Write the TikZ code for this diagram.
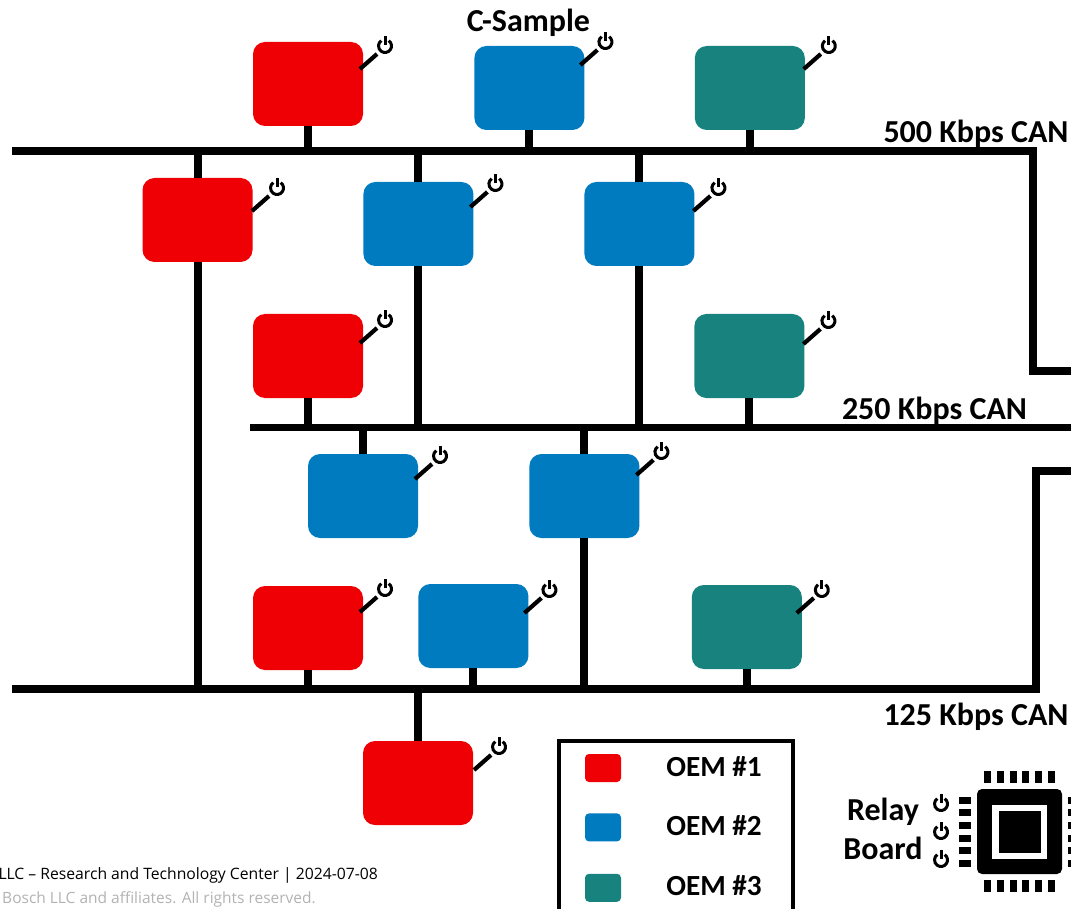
\documentclass[tikz,border=0pt]{standalone}
\usepackage{fontspec}
\setmainfont{Carlito}
\newfontfamily\footfont{Open Sans}
\usetikzlibrary{positioning}

\definecolor{oemred}{HTML}{EE0005}
\definecolor{oemblue}{HTML}{007BC0}
\definecolor{oemgreen}{HTML}{18837E}

\tikzset{
    powerkey/.pic={
        \draw[line width=3pt] (55:6.5pt) arc[start angle=55,end angle=-235,radius=6.5pt];
        \draw[line width=3pt] (0pt,1pt) -- (0pt,10pt);
    }
}

\newcommand{\ecukey}[3]{
    \draw[line width=4.2pt] ([shift={(#2-25,#3+23)}]#1.center) -- ([shift={(#2-8,#3+8)}]#1.center);
    \pic at ([shift={(#2,#3)}]#1.center) {powerkey};
}

\begin{document}
\begin{tikzpicture}[
    x=1pt,y=-1pt,
    ecu/.style={
        minimum width=110pt,
        minimum height=84pt,
        rounded corners=12pt,
        inner sep=0pt
    },
    swatch/.style={
        minimum width=36pt,
        minimum height=28pt,
        rounded corners=4pt,
        inner sep=0pt
    },
    bus/.style={line width=8pt},
    stub/.style={line width=8pt},
    lbl/.style={anchor=base,font=\fontsize{32}{34}\selectfont\bfseries,inner sep=0pt},
    oem/.style={anchor=base,font=\fontsize{29.2}{31}\selectfont\bfseries,inner sep=0pt},
    pin/.style={fill=black,inner sep=0pt}
]

\useasboundingbox (0,0) rectangle (1071,909);

\coordinate (busa) at (12,151);
\coordinate (busacorner) at (1033,151);
\coordinate (busaout) at (1033,371);
\coordinate (busaend) at (1071,371);
\coordinate (busb) at (250,427);
\coordinate (busbend) at (1071,427);
\coordinate (busc) at (12,689);
\coordinate (buscin) at (1036,689);
\coordinate (buscout) at (1036,471);
\coordinate (buscend) at (1071,471);

\node[ecu, fill=oemred] (reda) at (308,84) {};
\node[ecu, fill=oemblue, right=111pt of reda, yshift=-4pt] (bluea) {};
\node[ecu, fill=oemgreen, right=110pt of bluea] (greena) {};

\node[ecu, fill=oemred] (redb) at (197.5,220) {};
\node[ecu, fill=oemblue, right=110.5pt of redb, yshift=-4pt] (blueb) {};
\node[ecu, fill=oemblue, right=110.6pt of blueb] (bluec) {};

\node[ecu, fill=oemred] (redc) at (308,356) {};
\node[ecu, fill=oemgreen, right=331pt of redc] (greenb) {};

\node[ecu, fill=oemblue] (blued) at (363,496) {};
\node[ecu, fill=oemblue, right=111pt of blued] (bluee) {};

\node[ecu, fill=oemred] (redd) at (308,628) {};
\node[ecu, fill=oemblue, right=55pt of redd, yshift=2pt] (bluef) {};
\node[ecu, fill=oemgreen, right=164pt of bluef, xshift=-1pt, yshift=-1pt] (greenc) {};

\node[ecu, fill=oemred] (rede) at (418,783) {};

\draw[bus] (busa) -- (busacorner) -- (busaout) -- (busaend);
\draw[bus, line width=7pt] (busb) -- (busbend);
\draw[bus] (busc) -- (buscin) -- (buscout) -- (buscend);

\draw[stub] (reda.south) -- (reda.south |- busa);
\draw[stub] (bluea.south) -- (bluea.south |- busa);
\draw[stub] (greena.south) -- (greena.south |- busa);
\draw[stub] (redb.north |- busa) -- (redb.north);
\draw[stub] (redb.south) -- (redb.south |- busc);
\draw[stub] (blueb.north |- busa) -- (blueb.north);
\draw[stub] (blueb.south) -- (blueb.south |- busb);
\draw[stub] (bluec.north |- busa) -- (bluec.north);
\draw[stub] (bluec.south) -- (bluec.south |- busb);
\draw[stub] (redc.south) -- (redc.south |- busb);
\draw[stub] (greenb.south) -- (greenb.south |- busb);
\draw[stub] (blued.north |- busb) -- (blued.north);
\draw[stub] (bluee.north |- busb) -- (bluee.north);
\draw[stub] (bluee.south) -- (bluee.south |- busc);
\draw[stub] (redd.south) -- (redd.south |- busc);
\draw[stub] (bluef.south) -- (bluef.south |- busc);
\draw[stub] (greenc.south) -- (greenc.south |- busc);
\draw[stub] (rede.north |- busc) -- (rede.north);

\ecukey{reda}{77}{-38}
\ecukey{bluea}{76}{-46}
\ecukey{greena}{79}{-42}
\ecukey{redb}{79.5}{-32}
\ecukey{blueb}{77}{-40}
\ecukey{bluec}{79}{-36}
\ecukey{redc}{77}{-36}
\ecukey{greenb}{79}{-35}
\ecukey{blued}{77}{-40}
\ecukey{bluee}{77}{-44}
\ecukey{redd}{77}{-39}
\ecukey{bluef}{76}{-36}
\ecukey{greenc}{75}{-37}
\ecukey{rede}{81}{-36}

\node[lbl] (title) at (528.5,32) {C-Sample};
\node[lbl] (speeda) at (976,143) {500 Kbps CAN};
\node[lbl] (speedb) at (934.5,419) {250 Kbps CAN};
\node[lbl] (speedc) at (976,725) {125 Kbps CAN};

\draw[line width=4pt] (559,915) -- (559,741) -- (793,741) -- (793,915);
\node[swatch, fill=oemred] (keya) at (603,768) {};
\node[swatch, fill=oemblue, below=31pt of keya] (keyb) {};
\node[swatch, fill=oemgreen, below=32pt of keyb] (keyc) {};
\node[oem] (oema) at (714,776) {OEM \#1};
\node[oem] (oemb) at (714,835) {OEM \#2};
\node[oem] (oemc) at (714,895) {OEM \#3};

\node[fill=black, minimum size=85pt, rounded corners=5pt, inner sep=0pt] (chip) at (1019.5,831.5) {};
\node[fill=white, minimum width=55pt, minimum height=54pt, inner sep=0pt] (ring) at (chip) {};
\node[fill=black, minimum size=42pt, inner sep=0pt] (core) at (chip) {};
\foreach \k in {0,...,5} {
    \node[pin, minimum width=7pt, minimum height=12pt] at (987.5+12.8*\k,777) {};
    \node[pin, minimum width=7pt, minimum height=12pt] at (987.5+12.8*\k,886) {};
    \node[pin, minimum width=12pt, minimum height=7pt] at (965,800+12.7*\k) {};
    \node[pin, minimum width=12pt, minimum height=7pt] at (1074,800+12.7*\k) {};
}

\pic at (941,804) {powerkey};
\pic at (941,832) {powerkey};
\pic at (941,860) {powerkey};
\node[lbl] (relay) at (883,820) {Relay};
\node[lbl] (board) at (883,859) {Board};

\node[anchor=east, inner sep=0pt, font=\footfont\fontsize{15.7}{17}\selectfont] (footer) at (378,875) {LLC – Research and Technology Center | 2024-07-08};
\node[anchor=east, inner sep=0pt, text=black!30, font=\footfont\fontsize{15.5}{17}\selectfont] (rights) at (316,899) {Bosch LLC and affiliates. All rights reserved.};

\end{tikzpicture}
\end{document}
